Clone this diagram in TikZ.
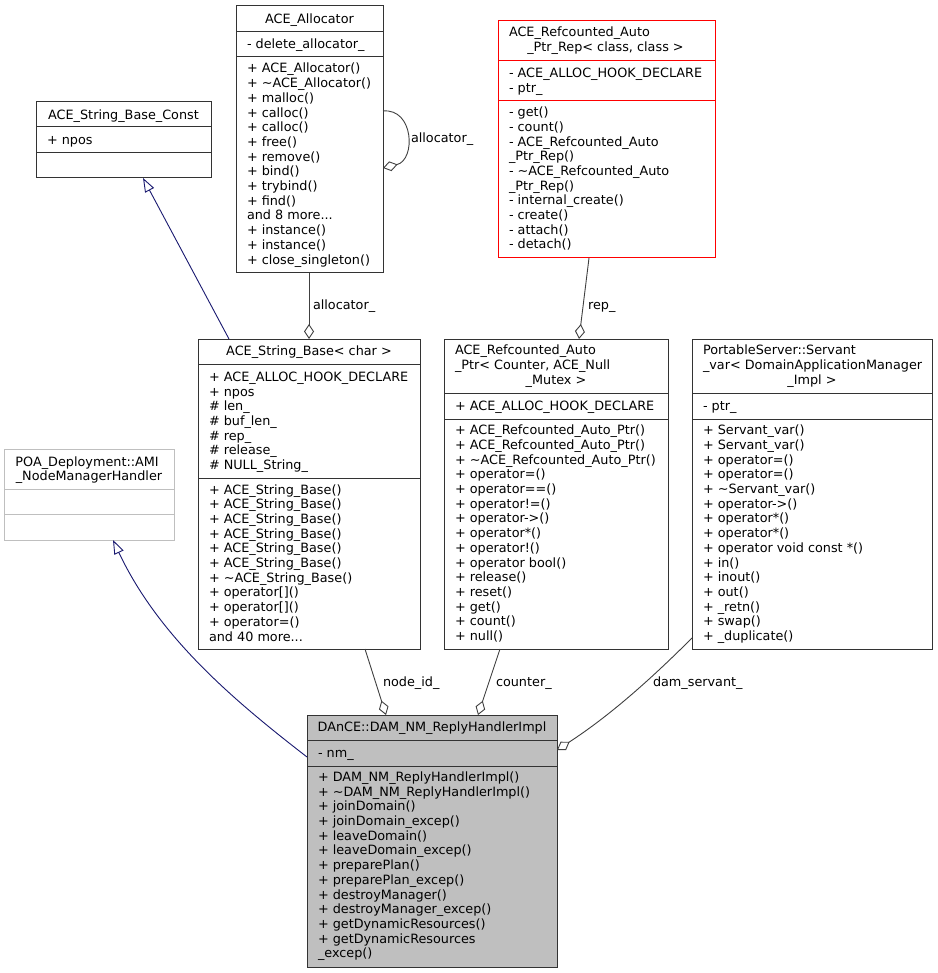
\documentclass[tikz,border=0pt]{standalone}
\usepackage{fontspec}
\setmainfont{DejaVu Sans}
\usetikzlibrary{arrows.meta,calc}
\definecolor{edgegray}{HTML}{404040}
\definecolor{inhblue}{HTML}{191970}
\definecolor{boxline}{HTML}{333333}
\definecolor{poagray}{HTML}{BFBFBF}
\definecolor{dancefill}{HTML}{BFBFBF}
\definecolor{refred}{HTML}{FF0000}
\tikzset{
  txt/.style={anchor=base west, inner sep=0pt, outer sep=0pt, font=\fontsize{12.8}{14.7}\selectfont},
  ctxt/.style={txt, anchor=base},
  cls/.style={draw=boxline, line width=1pt, fill=white, anchor=north west, inner sep=0pt, outer sep=0pt},
  sepline/.style={draw=boxline, line width=1pt},
  agg/.style={draw=edgegray, line width=0.9pt, -{Diamond[open, length=15pt, width=10pt]}},
  inh/.style={draw=inhblue, line width=0.9pt, -{Triangle[open, length=14pt, width=10pt]}},
}
\newcommand\mdots{...}
\newcommand\txtlines[4]{\foreach \txtitem [count=\i] in {#4} {\node[txt] (#1\i) at (#2,{#3+4.7+(\i-1)*14.7}) {\txtitem};}}
\begin{document}
\begin{tikzpicture}[x=1pt,y=-1pt]
\fill[white] (0,0) rectangle (937,973);
\useasboundingbox (0,0) rectangle (937,973);

% ACE_String_Base_Const
\node[cls, minimum width=175pt, minimum height=76pt] (sbconst) at (36,102) {};
\draw[sepline] (36,127) -- (211,127);
\draw[sepline] (36,153) -- (211,153);
\node[ctxt] (sbconst-t) at (123.5,119.2) {ACE\_String\_Base\_Const};
\node[txt] (sbconst-a) at (47,144.7) {+ npos};

% ACE_Allocator
\node[cls, minimum width=147pt, minimum height=267pt] (alloc) at (236,6) {};
\draw[sepline] (236,32) -- (383,32);
\draw[sepline] (236,57) -- (383,57);
\node[ctxt] (alloc-t) at (309.5,23.7) {ACE\_Allocator};
\node[txt] (alloc-a) at (247,48.7) {- delete\_allocator\_};
\txtlines{alloc-m}{247}{68.3}{{+ ACE\_Allocator()},{+ \textasciitilde ACE\_Allocator()},{+ malloc()},{+ calloc()},{+ calloc()},{+ free()},{+ remove()},{+ bind()},{+ trybind()},{+ find()},{and 8 more\mdots},{+ instance()},{+ instance()},{+ close\_singleton()}}

% ACE_Refcounted_Auto_Ptr_Rep
\node[cls, draw=refred, minimum width=217pt, minimum height=237pt] (rep) at (498,21) {};
\draw[sepline, draw=refred] (498,61) -- (715,61);
\draw[sepline, draw=refred] (498,101) -- (715,101);
\node[txt] (rep-t1) at (509,36.7) {ACE\_Refcounted\_Auto};
\node[ctxt] (rep-t2) at (605.5,51.7) {\_Ptr\_Rep< class, class >};
\txtlines{rep-a}{509}{72.7}{{- ACE\_ALLOC\_HOOK\_DECLARE},{- ptr\_}}
\txtlines{rep-m}{509}{112}{{- get()},{- count()},{- ACE\_Refcounted\_Auto},{\_Ptr\_Rep()},{- \textasciitilde ACE\_Refcounted\_Auto},{\_Ptr\_Rep()},{- internal\_create()},{- create()},{- attach()},{- detach()}}

% ACE_String_Base<char>
\node[cls, minimum width=222pt, minimum height=310pt] (strbase) at (198,339) {};
\draw[sepline] (198,364) -- (420,364);
\draw[sepline] (198,478) -- (420,478);
\node[ctxt] (strbase-t) at (309,355.7) {ACE\_String\_Base< char >};
\txtlines{strbase-a}{209}{376.7}{{+ ACE\_ALLOC\_HOOK\_DECLARE},{+ npos},{\# len\_},{\# buf\_len\_},{\# rep\_},{\# release\_},{\# NULL\_String\_}}
\txtlines{strbase-m}{209}{489.3}{{+ ACE\_String\_Base()},{+ ACE\_String\_Base()},{+ ACE\_String\_Base()},{+ ACE\_String\_Base()},{+ ACE\_String\_Base()},{+ ACE\_String\_Base()},{+ \textasciitilde ACE\_String\_Base()},{+ operator[]()},{+ operator[]()},{+ operator=()},{and 40 more\mdots}}

% ACE_Refcounted_Auto_Ptr
\node[cls, minimum width=224pt, minimum height=310pt] (ptr) at (444,339) {};
\draw[sepline] (444,393) -- (668,393);
\draw[sepline] (444,419) -- (668,419);
\node[txt] (ptr-t1) at (455,354.7) {ACE\_Refcounted\_Auto};
\node[txt] (ptr-t2) at (455,369.7) {\_Ptr< Counter, ACE\_Null};
\node[ctxt] (ptr-t3) at (556,384.7) {\_Mutex >};
\node[txt] (ptr-a) at (455,410.4) {+ ACE\_ALLOC\_HOOK\_DECLARE};
\txtlines{ptr-m}{455}{430}{{+ ACE\_Refcounted\_Auto\_Ptr()},{+ ACE\_Refcounted\_Auto\_Ptr()},{+ \textasciitilde ACE\_Refcounted\_Auto\_Ptr()},{+ operator=()},{+ operator==()},{+ operator!=()},{+ operator->()},{+ operator*()},{+ operator!()},{+ operator bool()},{+ release()},{+ reset()},{+ get()},{+ count()},{+ null()}}

% PortableServer::Servant_var
\node[cls, minimum width=240pt, minimum height=310pt] (ps) at (692,339) {};
\draw[sepline] (692,393) -- (932,393);
\draw[sepline] (692,419) -- (932,419);
\node[txt] (ps-t1) at (703,354.7) {PortableServer::Servant};
\node[txt] (ps-t2) at (703,369.7) {\_var< DomainApplicationManager};
\node[ctxt] (ps-t3) at (812,384.7) {\_Impl >};
\node[txt] (ps-a) at (703,410.4) {- ptr\_};
\txtlines{ps-m}{703}{430}{{+ Servant\_var()},{+ Servant\_var()},{+ operator=()},{+ operator=()},{+ \textasciitilde Servant\_var()},{+ operator->()},{+ operator*()},{+ operator*()},{+ operator void const *()},{+ in()},{+ inout()},{+ out()},{+ \_retn()},{+ swap()},{+ \_duplicate()}}

% POA_Deployment::AMI_NodeManagerHandler
\node[cls, draw=poagray, minimum width=170pt, minimum height=91pt] (poa) at (4,449) {};
\draw[sepline, draw=poagray] (4,489) -- (174,489);
\draw[sepline, draw=poagray] (4,514) -- (174,514);
\node[txt] (poa-t1) at (15.5,466.4) {POA\_Deployment::AMI};
\node[ctxt] (poa-t2) at (89,480.7) {\_NodeManagerHandler};

% DAnCE::DAM_NM_ReplyHandlerImpl
\node[cls, fill=dancefill, minimum width=250pt, minimum height=252pt] (dance) at (307,715) {};
\draw[sepline] (307,740) -- (557,740);
\draw[sepline] (307,766) -- (557,766);
\node[ctxt] (dance-t) at (432,731.4) {DAnCE::DAM\_NM\_ReplyHandlerImpl};
\node[txt] (dance-a) at (318,757.7) {- nm\_};
\txtlines{dance-m}{318}{776.7}{{+ DAM\_NM\_ReplyHandlerImpl()},{+ \textasciitilde DAM\_NM\_ReplyHandlerImpl()},{+ joinDomain()},{+ joinDomain\_excep()},{+ leaveDomain()},{+ leaveDomain\_excep()},{+ preparePlan()},{+ preparePlan\_excep()},{+ destroyManager()},{+ destroyManager\_excep()},{+ getDynamicResources()},{+ getDynamicResources},{\_excep()}}

% Connectors
\draw[inh] ($(strbase.north west)+(31,0)$) -- ($(sbconst.south west)+(107,0)$);
\draw[agg] ($(alloc.south west)+(73,0)$) -- ($(strbase.north west)+(111,0)$);
\node[txt] (lbl-alloc) at (313,309.5) {allocator\_};
\draw[agg] ($(alloc.north east)+(0,105)$) .. controls (414,108) and (416,160) .. ($(alloc.north east)+(0,162)$);
\node[txt] (lbl-self) at (411,142.5) {allocator\_};
\draw[agg] ($(rep.south west)+(91,0)$) -- ($(ptr.north west)+(135,0)$);
\node[txt] (lbl-rep) at (588,309.5) {rep\_};
\draw[agg] ($(strbase.south west)+(167,0)$) -- ($(dance.north west)+(79,0)$);
\node[txt] (lbl-node) at (383,686.4) {node\_id\_};
\draw[agg] ($(ptr.south west)+(56,0)$) -- ($(dance.north west)+(171,0)$);
\node[txt] (lbl-counter) at (496,686.4) {counter\_};
\draw[agg] ($(ps.south west)+(0,-11)$) .. controls (647,683) and (607,717.5) .. ($(dance.north east)+(0,35)$);
\node[txt] (lbl-dam) at (653,686.4) {dam\_servant\_};
\draw[inh] ($(dance.north west)+(0,42)$) .. controls (240,705) and (160,640) .. ($(poa.south west)+(109,0)$);
\end{tikzpicture}
\end{document}
